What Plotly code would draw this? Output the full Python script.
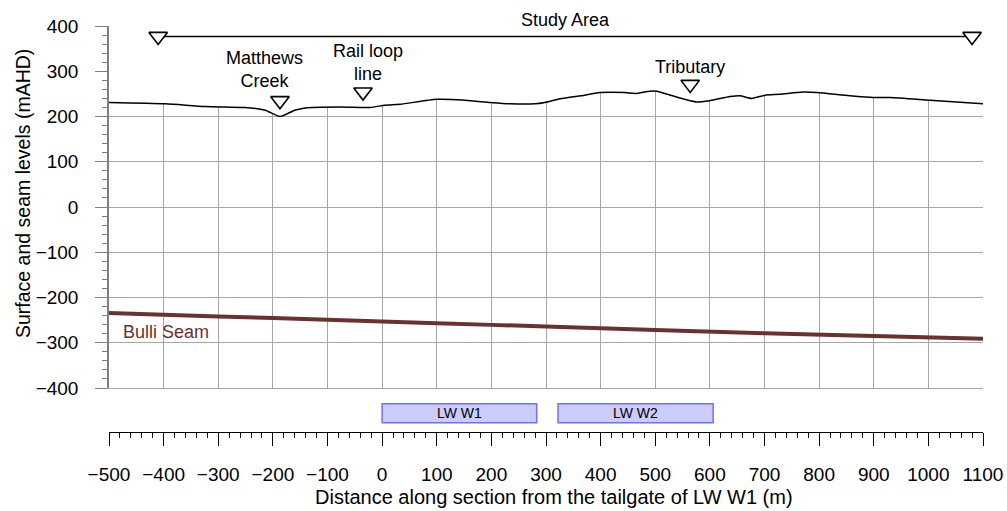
import plotly.graph_objects as go

FONT = "Arial, Liberation Sans, sans-serif"

# ---------------- data ----------------
surface_x = [-500, -397, -324, -251, -214, -187, -160, -141, -77, -22, 5, 33,
             100, 152, 198, 234, 280, 298, 326, 371, 399, 445, 463, 490, 503,
             536, 576, 600, 637, 655, 677, 701, 728, 770, 796, 856, 899, 930,
             1003, 1100]
surface_y = [231, 228, 222, 220, 214, 200, 214, 219, 221, 220, 225, 227,
             238, 236, 231, 228, 228, 231, 239, 247, 253, 253, 251, 256, 256,
             244, 232, 235, 244, 246, 240, 247, 249, 254, 253, 246, 242, 242,
             236, 228]

seam_x = [-500, -300, -100, 100, 300, 500, 700, 900, 1100]
seam_y = [-234, -242, -249, -257, -264, -272, -279, -285, -291]

study_x = [-410, 1080]
study_y = [377, 377]

feature_x = [-187, -35, 564]
feature_y = [235, 254, 271]
feature_labels = ["Matthews<br>Creek", "Rail loop<br>line", "Tributary"]
label_x = [-216, -26, 564]
label_y = [303, 319, 309]

panel_names = ["LW W1", "LW W2"]
panel_start = [0, 322]
panel_end = [283, 606]

y_ticks = [-400, -300, -200, -100, 0, 100, 200, 300, 400]
x_ticks = list(range(-500, 1101, 100))

Y_TOP = 430  # mask above the surface (clipped at the plot edge)

fig = go.Figure()

# white mask above ground surface (hides grid above the profile)
fig.add_trace(go.Scatter(x=surface_x, y=[Y_TOP] * len(surface_x), mode="lines",
                         line=dict(width=0), hoverinfo="skip", showlegend=False,
                         xaxis="x", yaxis="y"))
fig.add_trace(go.Scatter(x=surface_x, y=surface_y, mode="lines", fill="tonexty",
                         fillcolor="white",
                         line=dict(color="black", width=1.5, shape="spline", smoothing=0.6),
                         showlegend=False, xaxis="x", yaxis="y"))

# Bulli seam
fig.add_trace(go.Scatter(x=seam_x, y=seam_y, mode="lines",
                         line=dict(color="#6B3131", width=4, shape="spline"),
                         showlegend=False, xaxis="x", yaxis="y"))

# study area line and markers
fig.add_trace(go.Scatter(x=study_x, y=study_y, mode="lines+markers",
                         line=dict(color="black", width=1.5),
                         marker=dict(symbol="triangle-down", size=16, color="white",
                                     line=dict(color="black", width=1.6)),
                         cliponaxis=False, showlegend=False, xaxis="x", yaxis="y"))

# feature markers
fig.add_trace(go.Scatter(x=feature_x, y=feature_y, mode="markers",
                         marker=dict(symbol="triangle-down", size=16, color="white",
                                     line=dict(color="black", width=1.6)),
                         showlegend=False, xaxis="x", yaxis="y"))

# dummy trace for lower strip axis
fig.add_trace(go.Scatter(x=[-500, 1100], y=[0, 0], mode="markers",
                         marker=dict(opacity=0), hoverinfo="skip",
                         showlegend=False, xaxis="x2", yaxis="y2"))

shapes = []
annotations = []
for name, s, e in zip(panel_names, panel_start, panel_end):
    shapes.append(dict(type="rect", xref="x2", yref="y2", x0=s, x1=e, y0=0.21, y1=0.64,
                       fillcolor="#CCCCFF", line=dict(color="#7070FF", width=1.5)))
    annotations.append(dict(x=(s + e) / 2, y=0.425, xref="x2", yref="y2", text=name,
                            showarrow=False, xanchor="center", yanchor="middle",
                            font=dict(family=FONT, size=14, color="black")))

for t, lx, ly in zip(feature_labels, label_x, label_y):
    annotations.append(dict(x=lx, y=ly, xref="x", yref="y", text=t, showarrow=False,
                            xanchor="center", yanchor="middle",
                            font=dict(family=FONT, size=18, color="black")))

annotations.append(dict(x=(study_x[0] + study_x[1]) / 2, y=(432 - 20) / 406,
                        xref="x", yref="paper",
                        text="Study Area", showarrow=False,
                        xanchor="center", yanchor="middle",
                        font=dict(family=FONT, size=18, color="black")))
annotations.append(dict(x=-478, y=-276, xref="x", yref="y", text="Bulli Seam",
                        xanchor="left", yanchor="middle", showarrow=False,
                        font=dict(family=FONT, size=18, color="#6B3131")))

# axis titles
annotations.append(dict(x=(23 - 109) / 874, y=(432 - 194) / 406, xref="paper", yref="paper",
                        text="Surface and seam levels (mAHD)", textangle=-90,
                        xanchor="center", yanchor="middle",
                        showarrow=False, font=dict(family=FONT, size=19.5, color="black")))
annotations.append(dict(x=(554 - 109) / 874, y=(432 - 497) / 406, xref="paper", yref="paper",
                        text="Distance along section from the tailgate of LW W1 (m)",
                        xanchor="center", yanchor="middle",
                        showarrow=False, font=dict(family=FONT, size=20, color="black")))

split = (432 - 388) / 406

fig.update_layout(
    width=1007, height=511,
    margin=dict(l=109, r=24, t=26, b=79, autoexpand=False),
    paper_bgcolor="white", plot_bgcolor="white",
    showlegend=False,
    xaxis=dict(domain=[0, 1], range=[-500, 1100], anchor="y", automargin=False,
               tickvals=x_ticks, showticklabels=False, ticks="",
               showgrid=True, gridcolor="#A6A6A6", gridwidth=1,
               showline=True, linecolor="#A6A6A6", linewidth=1,
               zeroline=False),
    yaxis=dict(domain=[split, 1], range=[-400, 400], anchor="x", automargin=False,
               tickvals=y_ticks, ticks="outside", ticklen=12, tickwidth=1,
               tickcolor="#7F7F7F",
               minor=dict(dtick=20, ticks="outside", ticklen=5, tickcolor="#7F7F7F",
                          showgrid=False),
               showgrid=True, gridcolor="#A6A6A6", gridwidth=1,
               showline=True, linecolor="#7F7F7F", linewidth=1.5,
               zeroline=False, ticklabelstandoff=13,
               tickfont=dict(family=FONT, size=19, color="black")),
    xaxis2=dict(domain=[0, 1], range=[-500, 1100], anchor="y2", automargin=False,
                tickvals=x_ticks, ticks="outside", ticklen=13, tickwidth=1,
                tickcolor="black",
                minor=dict(dtick=20, ticks="outside", ticklen=5, tickcolor="black",
                           showgrid=False),
                showgrid=False, showline=True, linecolor="black", linewidth=1,
                zeroline=False, ticklabelstandoff=12,
                tickfont=dict(family=FONT, size=19, color="black")),
    yaxis2=dict(domain=[0, split], range=[0, 1], anchor="x2", visible=False),
    shapes=shapes,
    annotations=annotations,
)

fig.write_html("out.html")
